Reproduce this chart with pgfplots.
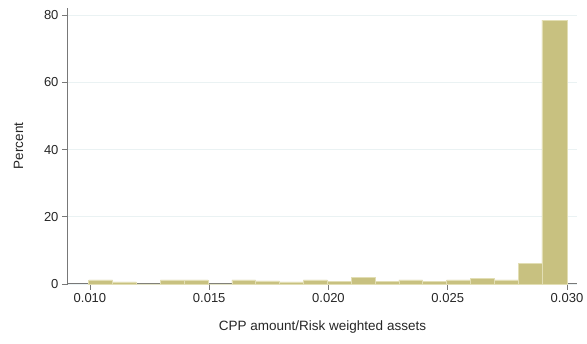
\documentclass[border=0pt]{standalone}
\usepackage{pgfplots}
\pgfplotsset{compat=1.18}
\usepackage{fontspec}
\setmainfont{Liberation Sans}
\definecolor{barfill}{RGB}{200,193,128}
\definecolor{baredge}{RGB}{226,222,180}
\definecolor{gridc}{RGB}{234,242,243}
\definecolor{axisc}{RGB}{120,120,120}
\begin{document}
\begin{tikzpicture}[x=1pt,y=1pt]
\path[use as bounding box] (0,0) rectangle (587,344);
\begin{axis}[
  at={(68pt,60pt)}, anchor=south west,
  scale only axis, width=509pt, height=276pt,
  xmin=0.00908, xmax=0.03042, ymin=0, ymax=82.1,
  axis x line*=bottom, axis y line*=left,
  axis line style={axisc, line width=1pt},
  scaled x ticks=false,
  xtick={0.010,0.015,0.020,0.025,0.030},
  xticklabels={0.010,0.015,0.020,0.025,0.030},
  ytick={0,20,40,60,80},
  tick style={axisc, line width=0.8pt},
  tick align=outside, major tick length=6pt,
  ymajorgrids, grid style={gridc, line width=0.8pt},
  tick label style={font=\fontsize{13}{15}\selectfont, text=black!85},
  label style={font=\fontsize{13.5}{15}\selectfont, text=black!85},
  xlabel={CPP amount/Risk weighted assets},
  ylabel={Percent},
  xlabel style={yshift=-11pt},
  ylabel style={yshift=14pt},
  /pgf/number format/assume math mode=true,
  clip=false,
]
\addplot[ybar interval, fill=barfill, draw=baredge, line width=0.6pt] table[x=x,y=y] {
x y
0.00995 1.2
0.01095 0.6
0.01195 0.0
0.01295 1.2
0.01395 1.2
0.01495 0.0
0.01595 1.2
0.01695 0.9
0.01795 0.6
0.01895 1.2
0.01995 0.7
0.02095 2.0
0.02195 0.7
0.02295 1.2
0.02395 0.7
0.02495 1.2
0.02595 1.6
0.02695 1.2
0.02795 6.2
0.02895 78.5
0.03003 78.5
};
\end{axis}
\end{tikzpicture}
\end{document}
